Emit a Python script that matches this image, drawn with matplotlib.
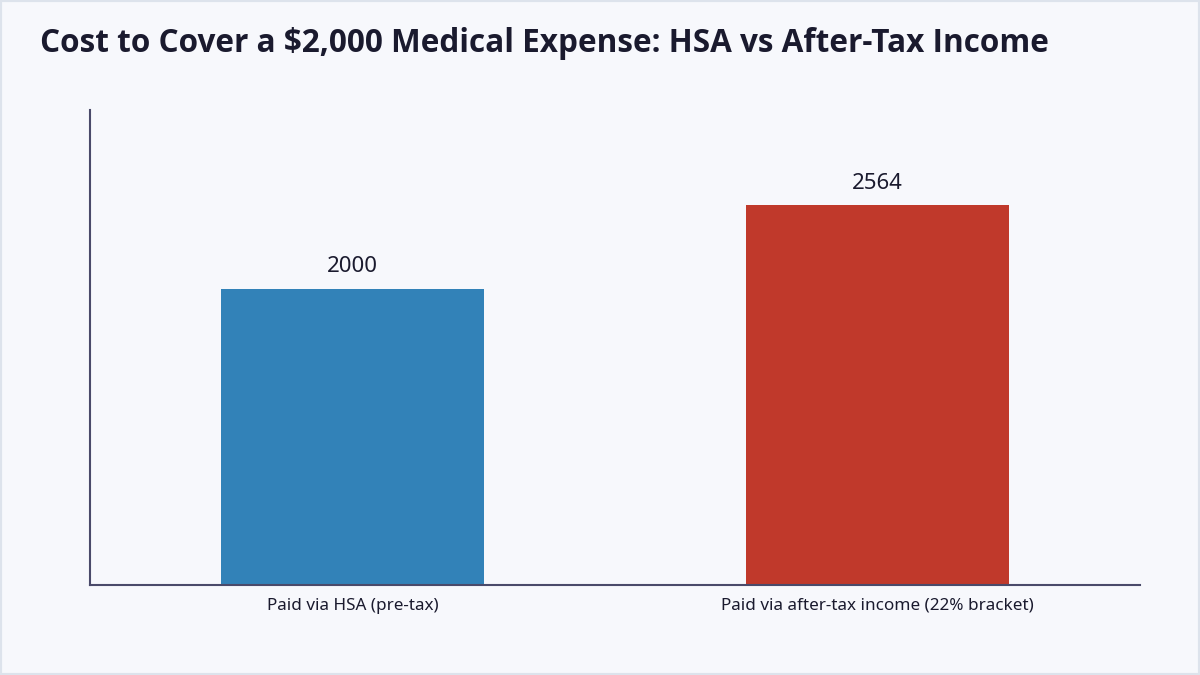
import matplotlib
matplotlib.use("Agg")
import matplotlib.pyplot as plt
from matplotlib.patches import Rectangle

categories = ["Paid via HSA (pre-tax)", "Paid via after-tax income (22% bracket)"]
values = [2000, 2564]
colors = ["#3282b8", "#c0392b"]
title = "Cost to Cover a $2,000 Medical Expense: HSA vs After-Tax Income"

plt.rcParams['font.family'] = ['Noto Sans', 'DejaVu Sans']

fig = plt.figure(figsize=(12, 6.75), dpi=100, facecolor="#f7f8fc")
fig.patches.append(Rectangle((0, 0), 1, 1, transform=fig.transFigure, fill=False,
                             edgecolor="#dde3ec", linewidth=3, zorder=10))
ax = fig.add_axes([90/1200, 1-585/675, 1050/1200, 475/675])
ax.set_facecolor("#f7f8fc")
x = range(len(categories))
bars = ax.bar(x, values, width=0.5, color=colors)
ax.set_xlim(-0.5, 1.5)
ax.set_ylim(0, 3205)
for xi, v in zip(x, values):
    ax.annotate(f"{v}", (xi, v), xytext=(0, 8), textcoords="offset points",
                ha="center", va="bottom", fontsize=16, color="#1a1a2e")
ax.set_xticks(list(x))
ax.set_xticklabels(categories, fontsize=12.3, color="#1a1a2e")
ax.tick_params(axis="x", length=0, pad=9)
ax.set_yticks([])
for s in ["top", "right"]:
    ax.spines[s].set_visible(False)
for s in ["left", "bottom"]:
    ax.spines[s].set_color("#4a4a6a")
    ax.spines[s].set_linewidth(1.5)
fig.text(40/1200, 1-44/675, title, fontsize=22.7, fontweight="bold", color="#1a1a2e",
         ha="left", va="center", family=["Open Sans", "DejaVu Sans"])
fig.savefig("out.png", dpi=100, facecolor=fig.get_facecolor())
